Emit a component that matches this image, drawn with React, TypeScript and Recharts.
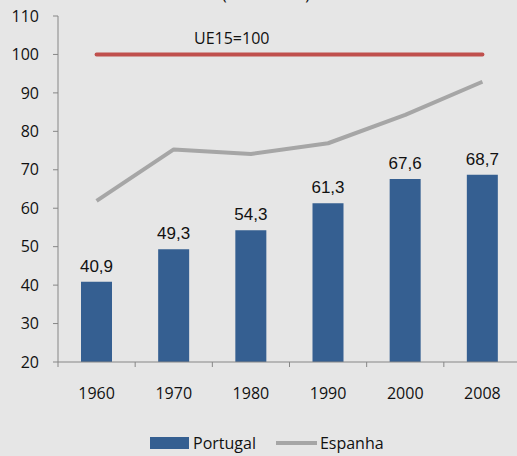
import React from 'react';
import {
  ComposedChart,
  Bar,
  Line,
  XAxis,
  YAxis,
  Legend,
  LabelList,
} from 'recharts';

const years = ['1960', '1970', '1980', '1990', '2000', '2008'];
const portugal = [40.9, 49.3, 54.3, 61.3, 67.6, 68.7];
const espanha = [61.9, 75.3, 74.1, 76.9, 84.3, 92.9];
const ue15 = [100, 100, 100, 100, 100, 100];
const yTicks = [20, 30, 40, 50, 60, 70, 80, 90, 100, 110];

const BG = '#e6e6e6';
const AXIS = '#868686';
const BLUE = '#355f91';
const RED = '#c0504d';
const GRAY = '#a6a6a6';

const data = years.map((year, i) => ({
  x: i + 0.5,
  year,
  portugal: portugal[i],
  espanha: espanha[i],
  ue15: ue15[i],
}));

// tick marks sit on category edges, labels in the middle
const xTicks = years.flatMap((_, i) => [i, i + 0.5]).concat(years.length);

const fmt = (v: number) => v.toFixed(1).replace('.', ',');

const XTick = (props: any) => {
  const { x, y, payload } = props;
  const v = payload.value as number;
  if (Number.isInteger(v)) {
    return <line x1={x} x2={x} y1={y} y2={y + 5} stroke={AXIS} strokeWidth={1} />;
  }
  return (
    <text x={x} y={y + 37} textAnchor="middle" fontSize={16} fill="#111">
      {years[Math.floor(v)]}
    </text>
  );
};

const RefLabel = (props: any) => {
  const { x, y, index } = props;
  if (index !== 1) return null;
  return (
    <text x={x + 58} y={y - 10} textAnchor="middle" fontSize={16} fill="#111">
      UE15=100
    </text>
  );
};

const LegendBox = () => (
  <div style={{ display: 'flex', alignItems: 'center', height: 26, paddingLeft: 150, fontSize: 16, color: '#111' }}>
    <span style={{ display: 'inline-block', width: 39, height: 12, background: BLUE, marginRight: 4 }} />
    <span>Portugal</span>
    <span style={{ display: 'inline-block', width: 41, height: 4, background: GRAY, marginLeft: 20, marginRight: 3 }} />
    <span>Espanha</span>
  </div>
);

export default function App() {
  return (
    <div
      style={{
        position: 'absolute',
        left: 0,
        top: 0,
        width: 517,
        height: 456,
        overflow: 'hidden',
        background: BG,
        fontFamily: '"Open Sans", sans-serif',
      }}
    >
      <ComposedChart
        width={530}
        height={456}
        data={data}
        margin={{ top: 16, right: 9, bottom: 0, left: 0 }}
      >
        <text x={266} y={0} textAnchor="middle" fontSize={16} fill="#111">
          (1960-2008)
        </text>
        <XAxis
          dataKey="x"
          type="number"
          domain={[0, years.length]}
          ticks={xTicks}
          interval={0}
          height={68}
          stroke={AXIS}
          tickLine={false}
          tickSize={0}
          tickMargin={0}
          tick={<XTick />}
        />
        <YAxis
          domain={[20, 110]}
          ticks={yTicks}
          interval={0}
          width={58}
          stroke={AXIS}
          tickSize={5}
          tickMargin={14}
          tick={{ fontSize: 16, fill: '#111' }}
        />
        <Legend verticalAlign="bottom" height={26} wrapperStyle={{ left: 0, width: 530 }} content={<LegendBox />} />
        <Bar dataKey="portugal" name="Portugal" fill={BLUE} barSize={31} isAnimationActive={false}>
          <LabelList
            dataKey="portugal"
            position="top"
            offset={10}
            formatter={(v: any) => fmt(Number(v))}
            style={{ fontFamily: '"Liberation Sans", Arial, sans-serif', fontSize: 17, fill: '#111' }}
          />
        </Bar>
        <Line
          dataKey="espanha"
          name="Espanha"
          stroke={GRAY}
          strokeWidth={4}
          dot={false}
          activeDot={false}
          strokeLinejoin="round"
          isAnimationActive={false}
        />
        <Line
          dataKey="ue15"
          name="UE15"
          stroke={RED}
          strokeWidth={4}
          strokeLinecap="round"
          dot={false}
          activeDot={false}
          legendType="none"
          isAnimationActive={false}
        >
          <LabelList dataKey="ue15" content={<RefLabel />} />
        </Line>
      </ComposedChart>
    </div>
  );
}
